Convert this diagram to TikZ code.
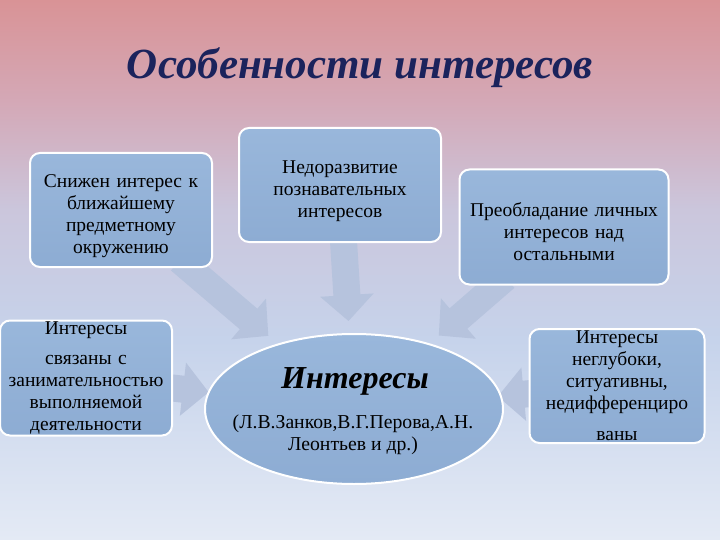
\documentclass[tikz,border=0pt]{standalone}
\usepackage{fontspec}
\setmainfont{Liberation Serif}
\usepackage{xcolor}
\usetikzlibrary{arrows.meta}
\usetikzlibrary{backgrounds}
\usetikzlibrary{shapes.geometric}

\definecolor{bgtop}{RGB}{217,147,150}
\definecolor{bgpink}{RGB}{212,168,182}
\definecolor{bglav}{RGB}{203,198,220}
\definecolor{bgmid}{RGB}{198,211,235}
\definecolor{bgbot}{RGB}{228,234,245}
\definecolor{titlecol}{RGB}{27,35,92}
\definecolor{boxtop}{RGB}{153,183,219}
\definecolor{boxbot}{RGB}{141,172,211}
\definecolor{arrowcol}{RGB}{182,195,221}

% TikZ maps the 25bp..75bp part of a 100bp shading onto the path
\pgfdeclareverticalshading{bgshade}{100bp}{color(0bp)=(bgbot); color(25bp)=(bgbot); color(43.5bp)=(bgmid);
  color(55.6bp)=(bglav); color(65.7bp)=(bgpink); color(75bp)=(bgtop); color(100bp)=(bgtop)}

\pgfdeclarelayer{back}
\pgfsetlayers{back,background,main}

\begin{document}
\begin{tikzpicture}[x=1pt,y=-1pt,
  box/.style={draw=white,line width=2pt,rounded corners=10pt,top color=boxtop,bottom color=boxbot,
    align=center,inner sep=0pt,font=\fontsize{19.5}{22}\selectfont},
  bigarrow/.style={draw=arrowcol,line width=27pt,-{Triangle[width=52pt,length=26pt]},shorten <=-12pt}]
	\useasboundingbox (0,0) rectangle (720,540);
	\begin{pgfonlayer}{back}
		\shade[shading=bgshade] (0,0) rectangle (720,540);
	\end{pgfonlayer}
	\node[font=\fontsize{43}{46}\selectfont\bfseries\itshape,text=titlecol] (title) at (360,68) {Особенности интересов};
	\node[box,minimum width=182pt,minimum height=114pt,text width=172pt] (nearby) at (121,210)
		{\rule{0pt}{26pt}Снижен интерес к\\ ближайшему\\ предметному\\ окружению};
	\node[box,minimum width=202pt,minimum height=114pt,text width=192pt] (cognitive) at (340,185)
		{\rule{0pt}{26pt}Недоразвитие\\ познавательных\\ интересов};
	\node[box,minimum width=209pt,minimum height=115pt,text width=199pt] (personal) at (564,227)
		{\rule{0pt}{23.5pt}Преобладание личных\\ интересов над\\ остальными};
	\node[box,minimum width=172pt,minimum height=115pt,text width=170pt] (amusing) at (86,378)
		{Интересы\\[8pt] связаны с\\ занимательностью\\ выполняемой\\ деятельности};
	\node[box,minimum width=175pt,minimum height=114pt,text width=170pt] (shallow) at (617,386)
		{Интересы\\ неглубоки,\\ ситуативны,\\ недифференциро\\[9pt] ваны};
	\node[ellipse,draw=white,line width=2pt,top color=boxtop,bottom color=boxbot,minimum width=298pt,
		minimum height=150pt,inner sep=0pt] (interests) at (354,409) {};
	\node[font=\fontsize{32}{34}\selectfont\bfseries\itshape] (intlabel) at (355,381) {Интересы};
	\node[align=center,font=\fontsize{19.7}{22}\selectfont] (authors) at (353,435)
		{(Л.В.Занков,В.Г.Перова,А.Н.\\ Леонтьев и др.)};
	\begin{scope}[on background layer]
		\draw[bigarrow,shorten >=12pt] (nearby) -- (interests);
		\draw[bigarrow,shorten >=12pt] (cognitive) -- (interests);
		\draw[bigarrow,shorten >=12pt] (personal) -- (interests);
		\draw[bigarrow,shorten >=-1pt] (amusing) -- (interests);
		\draw[bigarrow,shorten >=-4pt] (shallow) -- (interests);
	\end{scope}
\end{tikzpicture}
\end{document}
